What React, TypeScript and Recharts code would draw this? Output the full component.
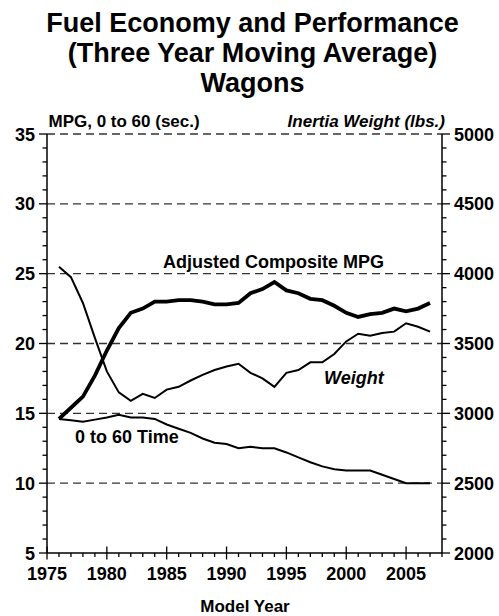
import { ComposedChart, Line, XAxis, YAxis, ReferenceLine } from 'recharts'

const years = [
  1976, 1977, 1978, 1979, 1980, 1981, 1982, 1983, 1984, 1985, 1986,
  1987, 1988, 1989, 1990, 1991, 1992, 1993, 1994, 1995, 1996, 1997,
  1998, 1999, 2000, 2001, 2002, 2003, 2004, 2005, 2006, 2007,
]
const mpg = [
  14.6, 15.4, 16.2, 17.7, 19.5, 21.1, 22.2, 22.5, 23.0, 23.0, 23.1,
  23.1, 23.0, 22.8, 22.8, 22.9, 23.6, 23.9, 24.4, 23.8, 23.6, 23.2,
  23.1, 22.7, 22.2, 21.9, 22.1, 22.2, 22.5, 22.3, 22.5, 22.9,
]
const zeroToSixty = [
  14.6, 14.5, 14.4, 14.55, 14.7, 14.9, 14.7, 14.7, 14.6, 14.2, 13.9,
  13.6, 13.2, 12.9, 12.8, 12.5, 12.6, 12.5, 12.5, 12.2, 11.85, 11.5,
  11.2, 11.0, 10.9, 10.9, 10.9, 10.6, 10.3, 10.0, 10.0, 10.0,
]
const weight = [
  4050, 3975, 3790, 3540, 3300, 3150, 3090, 3140, 3110, 3170, 3190,
  3235, 3275, 3310, 3335, 3355, 3290, 3250, 3190, 3290, 3310, 3365,
  3365, 3425, 3515, 3570, 3555, 3575, 3585, 3645, 3620, 3585,
]

const yearTicks = [
  1975, 1976, 1977, 1978, 1979, 1980, 1981, 1982, 1983, 1984, 1985, 1986,
  1987, 1988, 1989, 1990, 1991, 1992, 1993, 1994, 1995, 1996, 1997, 1998,
  1999, 2000, 2001, 2002, 2003, 2004, 2005, 2006, 2007, 2008,
]
const leftTicks = [
  5, 6, 7, 8, 9, 10, 11, 12, 13, 14, 15, 16, 17, 18, 19, 20, 21, 22, 23, 24,
  25, 26, 27, 28, 29, 30, 31, 32, 33, 34, 35,
]
const rightTicks = [
  2000, 2100, 2200, 2300, 2400, 2500, 2600, 2700, 2800, 2900, 3000, 3100,
  3200, 3300, 3400, 3500, 3600, 3700, 3800, 3900, 4000, 4100, 4200, 4300,
  4400, 4500, 4600, 4700, 4800, 4900, 5000,
]
const gridLines = [10, 15, 20, 25, 30, 35]

const FONT = '"Liberation Sans", Arial, Helvetica, sans-serif'

const rows = years.map((year, i) => ({
  year,
  mpg: mpg[i],
  zeroToSixty: zeroToSixty[i],
  weight: weight[i],
}))

// tick marks + labels drawn by hand so majors can be longer than minors
const LeftTick = ({ x, y, payload }: any) => {
  const major = payload.value % 5 === 0
  return (
    <g>
      <line x1={x} x2={x - (major ? 8 : 4.5)} y1={y} y2={y} stroke="#000" strokeWidth={1.3} />
      {major && (
        <text x={x - 12} y={y} dy={6.5} textAnchor="end" fontFamily={FONT} fontWeight="bold" fontSize={18} fill="#000">
          {payload.value}
        </text>
      )}
    </g>
  )
}

const RightTick = ({ x, y, payload }: any) => {
  const major = payload.value % 500 === 0
  return (
    <g>
      <line x1={x} x2={x + (major ? 8 : 4.5)} y1={y} y2={y} stroke="#000" strokeWidth={1.3} />
      {major && (
        <text x={x + 12} y={y} dy={6.5} textAnchor="start" fontFamily={FONT} fontWeight="bold" fontSize={18} fill="#000">
          {payload.value}
        </text>
      )}
    </g>
  )
}

const BottomTick = ({ x, y, payload }: any) => {
  const major = payload.value % 5 === 0
  return (
    <g>
      <line x1={x} x2={x} y1={major ? y - 6.5 : y} y2={y + (major ? 6.5 : 4)} stroke="#000" strokeWidth={1.3} />
      {major && payload.value < 2008 && (
        <text x={x} y={y + 27} textAnchor="middle" fontFamily={FONT} fontWeight="bold" fontSize={18} fill="#000">
          {payload.value}
        </text>
      )}
    </g>
  )
}

const label = (left: number, top: number, size: number, text: string, italic = false, align: 'left' | 'right' | 'center' = 'left') => (
  <div
    style={{
      position: 'absolute',
      left: align === 'left' ? left : undefined,
      right: align === 'right' ? 499 - left : undefined,
      ...(align === 'center' ? { left: left - 200, width: 400, textAlign: 'center' as const } : {}),
      top,
      fontFamily: FONT,
      fontWeight: 'bold',
      fontStyle: italic ? 'italic' : 'normal',
      fontSize: size,
      lineHeight: `${size}px`,
      whiteSpace: 'nowrap',
      color: '#000',
    }}
  >
    {text}
  </div>
)

export default function App() {
  return (
    <div style={{ position: 'absolute', left: 0, top: 0, width: 499, height: 616, background: '#fff', overflow: 'hidden' }}>
      <ComposedChart width={499} height={616} data={rows} margin={{ top: 134, right: 0, bottom: 33, left: 0 }}>
        {gridLines.map((v) => (
          <ReferenceLine key={v} yAxisId="left" y={v} stroke="#333" strokeWidth={1.3} strokeDasharray="8 5" />
        ))}
        <XAxis
          dataKey="year"
          type="number"
          domain={[1975, 2008]}
          ticks={yearTicks}
          interval={0}
          height={30}
          tickSize={0}
          tickMargin={0}
          tickLine={false}
          tick={<BottomTick />}
          axisLine={{ stroke: '#000', strokeWidth: 1.5 }}
        />
        <YAxis
          yAxisId="left"
          domain={[5, 35]}
          ticks={leftTicks}
          interval={0}
          width={47}
          tickSize={0}
          tickMargin={0}
          tickLine={false}
          tick={<LeftTick />}
          axisLine={{ stroke: '#000', strokeWidth: 1.5 }}
        />
        <YAxis
          yAxisId="right"
          orientation="right"
          domain={[2000, 5000]}
          ticks={rightTicks}
          interval={0}
          width={57}
          tickSize={0}
          tickMargin={0}
          tickLine={false}
          tick={<RightTick />}
          axisLine={{ stroke: '#000', strokeWidth: 1.5 }}
        />
        <Line yAxisId="right" dataKey="weight" type="linear" stroke="#000" strokeWidth={2} dot={false} isAnimationActive={false} />
        <Line yAxisId="left" dataKey="zeroToSixty" type="linear" stroke="#000" strokeWidth={2} dot={false} isAnimationActive={false} />
        <Line yAxisId="left" dataKey="mpg" type="linear" stroke="#000" strokeWidth={3.8} dot={false} isAnimationActive={false} />
      </ComposedChart>

      <div
        style={{
          position: 'absolute',
          left: 0,
          width: 505,
          top: 8,
          textAlign: 'center',
          fontFamily: FONT,
          fontWeight: 'bold',
          fontSize: 27,
          lineHeight: '30px',
          color: '#000',
        }}
      >
        Fuel Economy and Performance
        <br />
        (Three Year Moving Average)
        <br />
        Wagons
      </div>

      {label(48.5, 113, 17, 'MPG, 0 to 60 (sec.)')}
      {label(445, 113, 17, 'Inertia Weight (lbs.)', true, 'right')}
      {label(163, 253, 18, 'Adjusted Composite MPG')}
      {label(324, 369, 18, 'Weight', true)}
      {label(75, 428, 18, '0 to 60 Time')}
      {label(245, 598, 17, 'Model Year', false, 'center')}
    </div>
  )
}
